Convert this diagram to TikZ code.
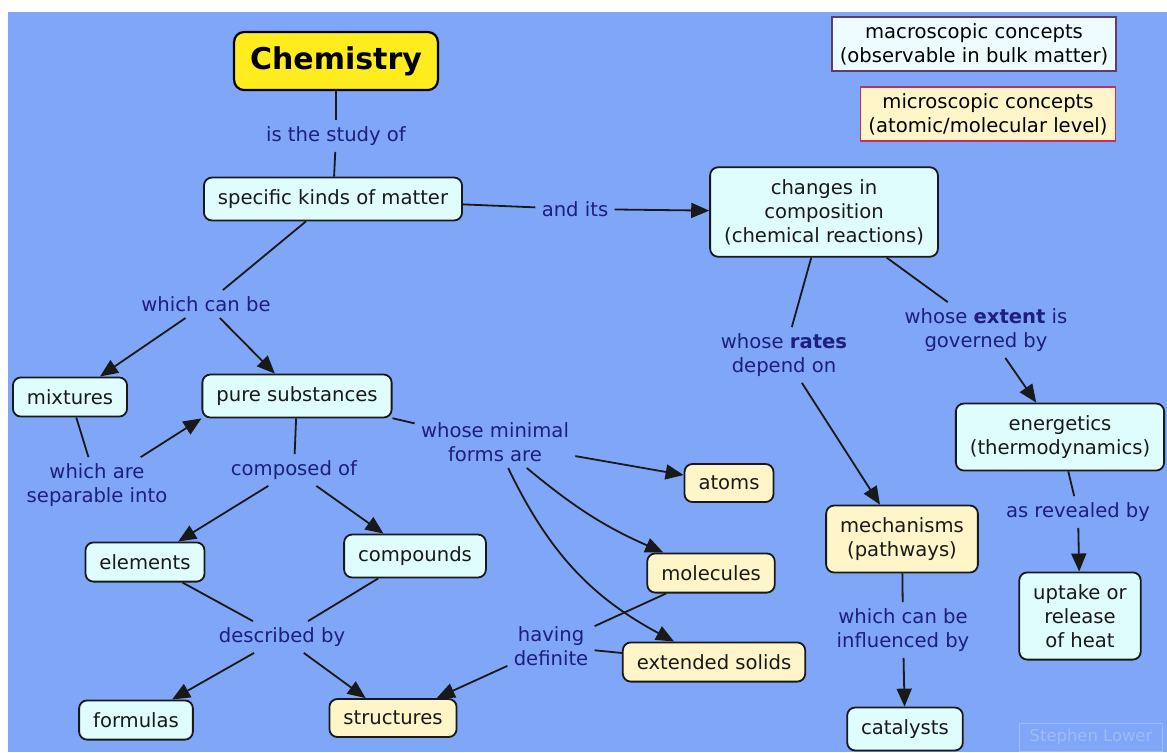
\documentclass[tikz,border=0pt]{standalone}
\usepackage{fontspec}
\setmainfont{DejaVu Sans}
\usepackage{tikz}
\usetikzlibrary{arrows.meta}

\definecolor{bgblue}{RGB}{128,166,247}
\definecolor{cyanfill}{RGB}{224,253,253}
\definecolor{creamfill}{RGB}{255,245,200}
\definecolor{chemyellow}{RGB}{255,236,30}
\definecolor{linkblue}{RGB}{30,30,125}
\definecolor{keypurple}{RGB}{95,60,120}
\definecolor{keyred}{RGB}{190,50,95}
\definecolor{keycyan}{RGB}{236,252,255}
\definecolor{wmblue}{RGB}{160,186,245}

\begin{document}
\begin{tikzpicture}[x=0.5pt, y=0.5pt,
  every node/.style={font=\fontsize{9.8}{12}\selectfont},
  concept/.style={draw=black!90, line width=0.9pt, rounded corners=4pt, fill=cyanfill,
                  inner xsep=7pt, inner ysep=6pt, align=center, text=black!90},
  atomic/.style={concept, fill=creamfill},
  linkword/.style={text=linkblue, align=center, inner sep=3pt},
  conn/.style={line width=0.9pt, black!90},
  arr/.style={conn, -{Triangle[length=9pt, width=7.5pt]}}]
\fill[white] (0,0) rectangle (1167,-752);
\fill[bgblue] (8,-12) rectangle (1167,-752);

% key boxes
\node[draw=keypurple, line width=0.8pt, fill=keycyan, inner xsep=4pt, inner ysep=3pt, align=center] (macrokey) at (974,-44) {macroscopic concepts\\(observable in bulk matter)};
\node[draw=keyred, line width=0.8pt, fill=creamfill, inner xsep=4pt, inner ysep=3pt, align=center] (microkey) at (988,-114) {microscopic concepts\\(atomic/molecular level)};

% concepts and linking words
\node[draw=black, line width=1.1pt, rounded corners=5pt, fill=chemyellow, font=\fontsize{15}{17}\selectfont\bfseries, inner xsep=8pt, minimum height=29pt] (chem) at (336,-61) {Chemistry};
\node[linkword] (study) at (336,-136) {is the study of};
\node[concept] (matter) at (333,-199) {specific kinds of matter};
\node[linkword] (andits) at (575,-209) {and its};
\node[concept] (changes) at (824,-212) {changes in\\composition\\(chemical reactions)};
\node[linkword] (rates) at (784,-355) {whose \textbf{rates}\\depend on};
\node[linkword] (extent) at (986,-330) {whose \textbf{extent} is\\governed by};
\node[concept] (energ) at (1060,-437) {energetics\\(thermodynamics)};
\node[linkword] (revealed) at (1078,-512) {as revealed by};
\node[concept] (uptake) at (1080,-616) {uptake or\\release\\of heat};
\node[atomic] (mech) at (902,-539) {mechanisms\\(pathways)};
\node[linkword] (influenced) at (903,-630) {which can be\\influenced by};
\node[concept] (catal) at (905,-729) {catalysts};
\node[linkword] (canbe) at (206,-304) {which can be};
\node[concept] (mixt) at (70,-397) {mixtures};
\node[concept] (pure) at (297,-396) {pure substances};
\node[linkword] (separ) at (97,-485) {which are\\separable into};
\node[linkword] (composed) at (294,-470) {composed of};
\node[concept] (elem) at (145,-562) {elements};
\node[concept] (compd) at (415,-556) {compounds};
\node[linkword] (described) at (282,-637) {described by};
\node[concept] (formul) at (136,-720) {formulas};
\node[atomic] (struct) at (393,-718) {structures};
\node[linkword] (minimal) at (495,-442) {whose minimal\\forms are};
\node[atomic] (atoms) at (729,-483) {atoms};
\node[atomic] (molec) at (711,-573) {molecules};
\node[atomic] (extsol) at (714,-662) {extended solids};
\node[linkword] (having) at (551,-646) {having\\definite};
\node[draw=wmblue, text=wmblue, font=\fontsize{8.2}{10}\selectfont, inner xsep=5pt, inner ysep=3pt] (lower) at (1091,-737) {Stephen Lower};

% connectors
\draw[conn] (chem) -- (study);
\draw[conn] (study) -- (matter);
\draw[conn] (matter) -- (andits);
\draw[arr] (andits) -- (changes);
\draw[conn] (matter) -- (canbe);
\draw[arr] (canbe) -- (mixt);
\draw[arr] (canbe) -- (pure);
\draw[conn] (mixt) -- (separ);
\draw[arr] (separ) -- (pure.south west);
\draw[conn] (pure) -- (composed);
\draw[arr] (composed) -- (elem);
\draw[arr] (composed) -- (compd);
\draw[conn] (elem) -- (described);
\draw[conn] (compd) -- (described);
\draw[arr] (described) -- (formul);
\draw[arr] (described) -- (struct);
\draw[conn] (pure) -- (minimal);
\draw[arr] (minimal) -- (atoms);
\draw[arr] (minimal) to[bend right=8] (molec);
\draw[arr] (minimal) to[bend right=18] (extsol);
\draw[conn] (molec) -- (having);
\draw[conn] (extsol) -- (having);
\draw[arr] (having) -- (struct);
\draw[conn] (changes) -- (rates);
\draw[arr] (rates) -- (mech);
\draw[conn] (changes) -- (extent);
\draw[arr] (extent) -- (energ);
\draw[conn] (energ) -- (revealed);
\draw[arr] (revealed) -- (uptake);
\draw[conn] (mech) -- (influenced);
\draw[arr] (influenced) -- (catal);
\end{tikzpicture}
\end{document}
